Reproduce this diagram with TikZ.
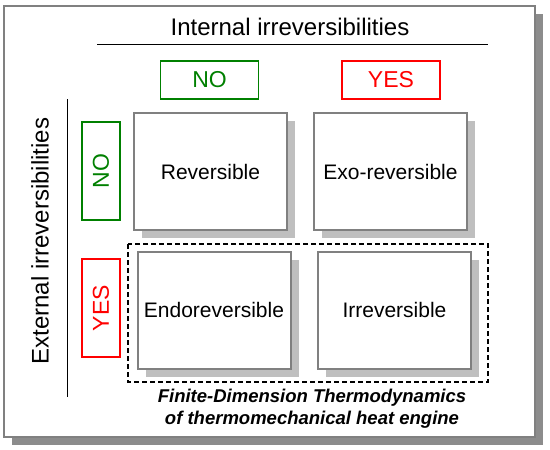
\documentclass[tikz,border=0pt]{standalone}
\usepackage{fontspec}
\setmainfont{Liberation Sans}
\usetikzlibrary{shadows,positioning,fit}

\begin{document}
\begin{tikzpicture}[x=1pt, y=-1pt,
    outerframe/.style={rectangle, draw=gray, line width=2pt, fill=white, minimum width=531pt, minimum height=431pt,
      general shadow={fill=gray!90, shadow xshift=8pt, shadow yshift=-8pt}},
    cell/.style={rectangle, draw=gray, line width=2pt, fill=white, minimum width=153pt, minimum height=117pt, inner sep=0pt,
      font=\fontsize{21}{25}\selectfont, general shadow={fill=gray!50, shadow xshift=8pt, shadow yshift=-8pt}},
    tag/.style={rectangle, draw, line width=1.6pt, minimum width=98pt, minimum height=38pt, inner sep=0pt, font=\fontsize{23}{27}\selectfont},
    notag/.style={tag, draw=green!50!black, text=green!50!black},
    yestag/.style={tag, draw=red, text=red},
    axislabel/.style={font=\fontsize{24}{28}\selectfont},
    divider/.style={line width=1pt}]
  \useasboundingbox (0,0) rectangle (550,450);
  \node[outerframe] (box) at (269.5,221.5) {};
  % axis titles
  \node[axislabel] (intlabel) at (290,27) {Internal irreversibilities};
  \node[axislabel, rotate=90] (extlabel) at (40,241) {External irreversibilities};
  \coordinate (intL) at (97,44);
  \coordinate (intR) at (488,44);
  \coordinate (extT) at (67,99);
  \coordinate (extB) at (67,397);
  \draw[divider] (intL) -- (intR);
  \draw[divider] (extT) -- (extB);
  % yes / no tags
  \node[notag] (nointern) at (209.5,80) {NO};
  \node[yestag] (yesintern) at (391,80) {YES};
  \node[notag, rotate=90] (noextern) at (101,171) {NO};
  \node[yestag, rotate=90] (yesextern) at (101,308) {YES};
  % the four cases
  \node[cell] (rev) at (210.5,171.5) {Reversible};
  \node[cell] (exo) at (390.5,171.5) {Exo-reversible};
  \node[cell] (endo) at (214,310) {Endoreversible};
  \node[cell] (irr) at (394.5,310) {Irreversible};
  % FDT region
  \draw[dashed, dash pattern=on 5pt off 3pt, line width=1.2pt] (128,244) rectangle (488,382);
  \node[font=\fontsize{18.5}{22}\selectfont\bfseries\itshape, align=center] (fdt) at (312,409)
    {Finite-Dimension Thermodynamics\\of thermomechanical heat engine};
\end{tikzpicture}
\end{document}
